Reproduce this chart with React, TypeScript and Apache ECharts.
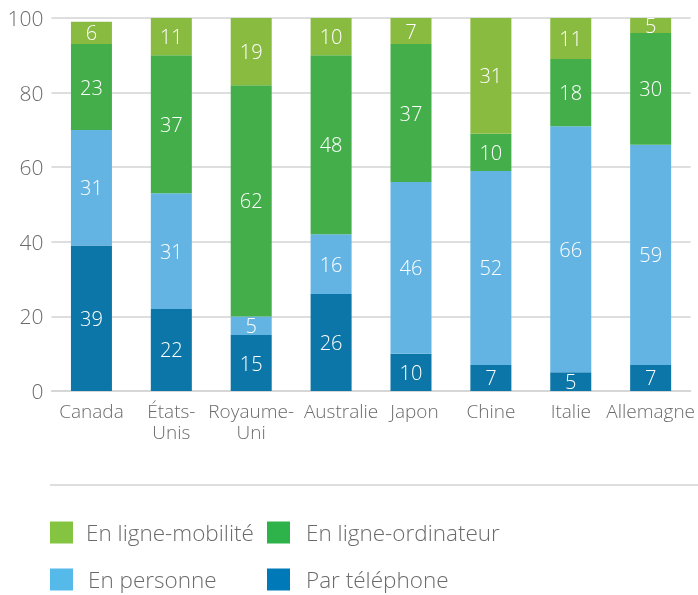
import React, { useEffect, useRef } from "react";
import * as echarts from "echarts";

const categories = ["Canada", "États-\nUnis", "Royaume-\nUni", "Australie", "Japon", "Chine", "Italie", "Allemagne"];
const telephone = [39, 22, 15, 26, 10, 7, 5, 7];
const personne = [31, 31, 5, 16, 46, 52, 66, 59];
const ordinateur = [23, 37, 62, 48, 37, 10, 18, 30];
const mobilite = [6, 11, 19, 10, 7, 31, 11, 5];
const yTicks = { min: 0, max: 100, interval: 20 };

const FONT = "'Open Sans', 'Noto Sans', sans-serif";
const TEXT = "#6b6b6b";

export default function App() {
  const ref = useRef<HTMLDivElement>(null);
  useEffect(() => {
    if (!ref.current) return;
    const chart = echarts.init(ref.current, undefined, { renderer: "svg" });
    const label = {
      show: true,
      position: "inside",
      color: "#ffffff",
      fontSize: 20,
      fontFamily: FONT,
      fontWeight: 300,
    };
    const mk = (name: string, data: number[], color: string) => ({
      name,
      type: "bar",
      stack: "total",
      data,
      barWidth: 41,
      itemStyle: { color },
      label,
    });
    const legend = (name: string, color: string, left: number, top: number, pad: number) => ({
      left,
      top,
      padding: 0,
      itemWidth: 23,
      itemHeight: 22,
      selectedMode: false,
      icon: "rect",
      data: [{ name, itemStyle: { color } }],
      textStyle: {
        fontSize: 22.5,
        fontFamily: FONT,
        fontWeight: 300,
        color: TEXT,
        padding: [5, 0, 0, pad],
      },
    });
    // small shifts to reproduce the reference's label placement
    const labelShift: Record<string, number> = { "Australie": 20, "Japon": 7 };
    const catData = categories.map((c) =>
      labelShift[c] ? { value: c, textStyle: { padding: [0, 0, 0, labelShift[c]] } } : c
    );
    chart.setOption({
      animation: false,
      grid: { left: 51.5, right: 6.5, top: 18, bottom: 204, containLabel: false },
      xAxis: {
        type: "category",
        data: catData,
        axisTick: { show: false },
        axisLine: { show: true, lineStyle: { color: "#d3d3d3", width: 1.5 } },
        axisLabel: {
          fontSize: 19,
          fontFamily: FONT,
          fontWeight: 300,
          color: TEXT,
          margin: 9,
          lineHeight: 21,
          interval: 0,
        },
      },
      yAxis: {
        type: "value",
        min: yTicks.min,
        max: yTicks.max,
        interval: yTicks.interval,
        axisLine: { show: false },
        axisTick: { show: false },
        splitLine: { lineStyle: { color: "#d3d3d3", width: 1.5 } },
        axisLabel: {
          fontSize: 21,
          fontFamily: FONT,
          fontWeight: 300,
          color: TEXT,
          margin: 8,
        },
      },
      legend: [
        legend("En ligne-mobilité", "#84c441", 50, 521, 8),
        legend("En ligne-ordinateur", "#2db34a", 267, 521, 11),
        legend("En personne", "#55b9ea", 50, 568, 10),
        legend("Par téléphone", "#0079b8", 267, 568, 11),
      ],
      graphic: [
        {
          type: "line",
          shape: { x1: 50, y1: 485, x2: 698, y2: 485 },
          style: { stroke: "#d3d3d3", lineWidth: 1.5 },
        },
      ],
      series: [
        mk("Par téléphone", telephone, "#0c76a8"),
        mk("En personne", personne, "#63b4e3"),
        mk("En ligne-ordinateur", ordinateur, "#44af4a"),
        mk("En ligne-mobilité", mobilite, "#8abb41"),
      ],
    });
    return () => chart.dispose();
  }, []);
  return <div ref={ref} style={{ position: "fixed", left: 0, top: 0, width: 698, height: 595 }} />;
}
